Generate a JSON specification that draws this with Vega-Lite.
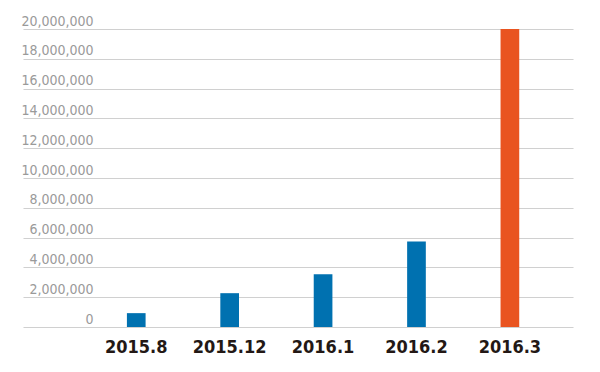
{
  "$schema": "https://vega.github.io/schema/vega-lite/v6.json",
  "width": 550,
  "height": 298,
  "autosize": "none",
  "padding": {"left": 23, "top": 29, "right": 27, "bottom": 45},
  "background": "white",
  "data": {
    "values": [
      {"period": "2015.8", "value": 930000, "highlight": "no"},
      {"period": "2015.12", "value": 2270000, "highlight": "no"},
      {"period": "2016.1", "value": 3540000, "highlight": "no"},
      {"period": "2016.2", "value": 5740000, "highlight": "no"},
      {"period": "2016.3", "value": 20000000, "highlight": "yes"}
    ]
  },
  "config": {"view": {"stroke": null}},
  "mark": {"type": "bar"},
  "encoding": {
    "x": {
      "field": "period",
      "type": "ordinal",
      "sort": null,
      "scale": {"paddingInner": 0.8, "paddingOuter": 0.844, "align": 0.659},
      "axis": {
        "title": null,
        "domain": false,
        "ticks": false,
        "labelAngle": 0,
        "labelPadding": 11,
        "labelFont": "DejaVu Sans Condensed",
        "labelFontWeight": "bold",
        "labelFontSize": 18,
        "labelColor": "#231815"
      }
    },
    "y": {
      "field": "value",
      "type": "quantitative",
      "scale": {"domain": [0, 20000000], "nice": false},
      "axis": {
        "title": null,
        "domain": false,
        "ticks": false,
        "values": [0, 2000000, 4000000, 6000000, 8000000, 10000000, 12000000, 14000000, 16000000, 18000000, 20000000],
        "format": ",d",
        "gridColor": "#d0d0d0",
        "gridWidth": 1.2,
        "labelPadding": -70,
        "labelAlign": "right",
        "labelBaseline": "alphabetic",
        "labelOffset": -4,
        "labelFont": "DejaVu Sans Condensed",
        "labelFontSize": 14,
        "labelColor": "#9a9a9a"
      }
    },
    "color": {
      "field": "highlight",
      "type": "nominal",
      "scale": {"domain": ["no", "yes"], "range": ["#0071b0", "#e95420"]},
      "legend": null
    }
  }
}
